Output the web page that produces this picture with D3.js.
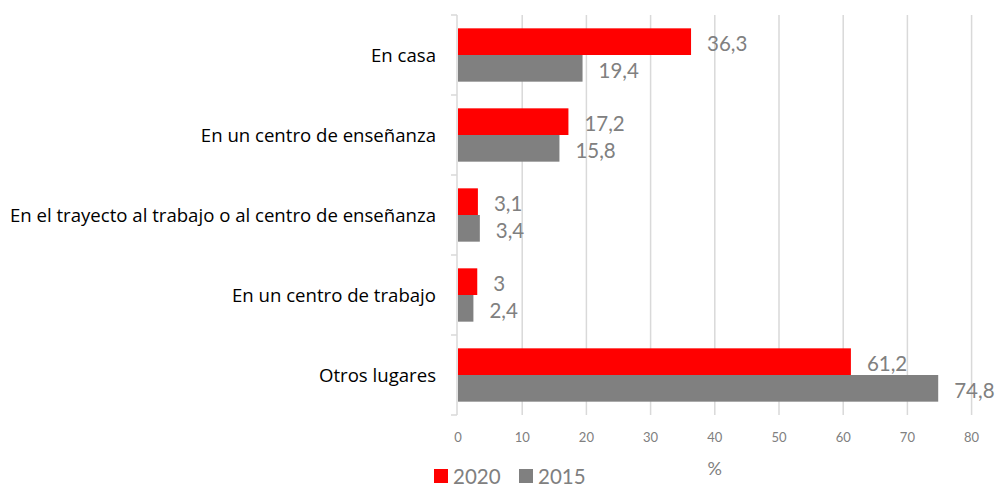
<!DOCTYPE html>
<html>
<head>
<meta charset="utf-8">
<script src="https://cdn.jsdelivr.net/npm/d3@7"></script>
<style>
  body { margin: 0; background: #fff; }
  svg { display: block; font-family: Lato, "Open Sans", sans-serif; }
</style>
</head>
<body>
<div id="chart"></div>
<script>
// data
var categories = ["En casa", "En un centro de enseñanza",
  "En el trayecto al trabajo o al centro de enseñanza",
  "En un centro de trabajo", "Otros lugares"];
var series = ["2020", "2015"];
var values2020 = [36.3, 17.2, 3.1, 3, 61.2];
var values2015 = [19.4, 15.8, 3.4, 2.4, 74.8];
var xTicks = [0, 10, 20, 30, 40, 50, 60, 70, 80];
var colors = ["#ff0000", "#808080"];

var width = 998, height = 486;

var svg = d3.select("#chart").append("svg")
  .attr("width", width)
  .attr("height", height);

var x = d3.scaleLinear().domain([0, 80]).range([458, 971.6]);
var y = d3.scaleBand().domain(categories).range([15, 415]);
var ySub = d3.scaleBand().domain(series).range([0, y.bandwidth()]).paddingOuter(0.5);
var color = d3.scaleOrdinal().domain(series).range(colors);

var rows = categories.map(function(c, i) {
  return { cat: c, vals: [
    { s: "2020", v: values2020[i] },
    { s: "2015", v: values2015[i] }
  ]};
});

// gridlines
svg.append("g").selectAll("line")
  .data(xTicks.slice(1))
  .enter().append("line")
  .attr("x1", d => x(d)).attr("x2", d => x(d))
  .attr("y1", 15).attr("y2", 415)
  .attr("stroke", "#d9d9d9")
  .attr("stroke-width", 1.5);

// bars
var groups = svg.append("g").selectAll("g")
  .data(rows)
  .enter().append("g")
  .attr("transform", d => "translate(0," + y(d.cat) + ")");

groups.selectAll("rect")
  .data(d => d.vals)
  .enter().append("rect")
  .attr("x", x(0))
  .attr("y", d => ySub(d.s))
  .attr("width", d => x(d.v) - x(0))
  .attr("height", ySub.bandwidth())
  .attr("fill", d => color(d.s));

groups.selectAll("text")
  .data(d => d.vals)
  .enter().append("text")
  .attr("x", d => x(d.v) + 16)
  .attr("y", d => ySub(d.s) + ySub.bandwidth() / 2 + 2)
  .attr("dy", "0.35em")
  .attr("fill", "#808080")
  .attr("font-size", 20.5)
  .text(d => String(d.v).replace(".", ","));

// left axis
var yAxis = svg.append("g")
  .attr("transform", "translate(457,0)");
yAxis.append("line")
  .attr("y1", 15).attr("y2", 415)
  .attr("stroke", "#d9d9d9").attr("stroke-width", 1.5);
yAxis.selectAll(".tk")
  .data(categories.concat([null]))
  .enter().append("line")
  .attr("class", "tk")
  .attr("x1", -6).attr("x2", 0)
  .attr("y1", (d, i) => i < categories.length ? y(d) : 415)
  .attr("y2", (d, i) => i < categories.length ? y(d) : 415)
  .attr("stroke", "#d9d9d9").attr("stroke-width", 1.5);

svg.append("g").selectAll("text")
  .data(categories)
  .enter().append("text")
  .attr("x", 436)
  .attr("y", d => y(d) + y.bandwidth() / 2)
  .attr("dy", "0.35em")
  .attr("text-anchor", "end")
  .attr("fill", "#000")
  .attr("font-family", "'Open Sans', sans-serif")
  .attr("font-size", 18.6)
  .text(d => d);

// x tick labels
svg.append("g").selectAll("text")
  .data(xTicks)
  .enter().append("text")
  .attr("x", d => x(d))
  .attr("y", 437)
  .attr("dy", "0.35em")
  .attr("text-anchor", "middle")
  .attr("fill", "#808080")
  .attr("font-size", 13)
  .text(d => d);

svg.append("text")
  .attr("x", x(40))
  .attr("y", 469)
  .attr("dy", "0.35em")
  .attr("text-anchor", "middle")
  .attr("fill", "#808080")
  .attr("font-size", 18)
  .text("%");

// legend
var legend = svg.append("g").selectAll("g")
  .data(series)
  .enter().append("g")
  .attr("transform", (d, i) => "translate(" + (434 + i * 85) + ",469)");
legend.append("rect")
  .attr("width", 14).attr("height", 14)
  .attr("fill", d => color(d));
legend.append("text")
  .attr("x", 19).attr("y", 14.5)
  .attr("fill", "#808080")
  .attr("font-size", 20.5)
  .text(d => d);
</script>
</body>
</html>
